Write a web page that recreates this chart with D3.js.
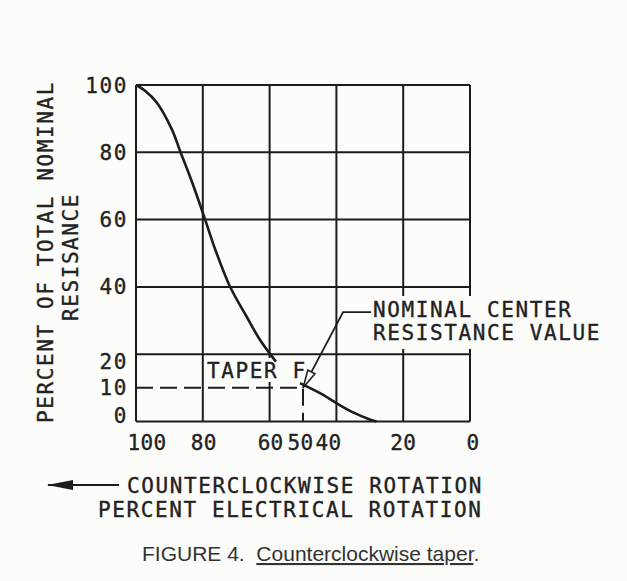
<!DOCTYPE html>
<html>
<head>
<meta charset="utf-8">
<script src="https://cdn.jsdelivr.net/npm/d3@7"></script>
<style>
  body { margin: 0; background: #fcfcfa; }
  svg { display: block; }
  .mono { font-family: "DejaVu Sans Mono", monospace; font-size: 21px; letter-spacing: 1.6px; fill: #222; stroke: #222; stroke-width: 0.35px; }
  .xt { letter-spacing: 0.3px; }
</style>
</head>
<body>
<div id="chart"></div>
<script>
// taper F, counterclockwise : [percent rotation, percent resistance]
var taperUpper = [[100, 100], [97.3, 98.3], [93.8, 94.8], [89.3, 86.9], [86.8, 80.4], [82.8, 70],
  [79.3, 60], [76.3, 51.2], [71.9, 40.2], [66.9, 31.2], [62.9, 24.3], [58.1, 17.8]];
var taperLower = [[50.9, 11.4], [44.9, 8.4], [39.9, 5.4], [35, 2.7], [30, 0.6], [28, 0]];
var xTicks = [100, 80, 60, 50, 40, 20, 0];
var yTicks = [0, 10, 20, 40, 60, 80, 100];
var xGrid = [100, 80, 60, 40, 20, 0];
var yGrid = [0, 20, 40, 60, 80, 100];
var centerPoint = [50, 10];
var leaderBend = [38, 32.5];

var W = 627, H = 581;
var svg = d3.select("#chart").append("svg").attr("width", W).attr("height", H);

var x = d3.scaleLinear().domain([100, 0]).range([136, 470]);
var y = d3.scaleLinear().domain([0, 100]).range([421.5, 85]);
var ink = "#1c1c1c";

// grid
svg.append("g").selectAll("line").data(xGrid).enter().append("line")
  .attr("x1", d => x(d)).attr("x2", d => x(d))
  .attr("y1", y(0)).attr("y2", y(100))
  .attr("stroke", ink).attr("stroke-width", 2);
svg.append("g").selectAll("line").data(yGrid).enter().append("line")
  .attr("x1", x(100)).attr("x2", x(0))
  .attr("y1", d => y(d)).attr("y2", d => y(d))
  .attr("stroke", ink).attr("stroke-width", 2);

// white boxes behind the labels inside the grid
svg.append("rect").attr("x", 204).attr("y", 358).attr("width", 96).attr("height", 24).attr("fill", "#fcfcfa");
svg.append("rect").attr("x", 368).attr("y", 296).attr("width", 240).attr("height", 53).attr("fill", "#fcfcfa");

// dashed guide to nominal center
svg.append("path")
  .attr("d", "M" + x(100) + "," + y(centerPoint[1]) + "H" + x(centerPoint[0]) + "V" + y(0))
  .attr("fill", "none").attr("stroke", ink).attr("stroke-width", 2)
  .attr("stroke-dasharray", "17,7");

// taper curve
var line = d3.line().x(d => x(d[0])).y(d => y(d[1])).curve(d3.curveCatmullRom);
[taperUpper, taperLower].forEach(function(seg) {
  svg.append("path").attr("d", line(seg))
    .attr("fill", "none").attr("stroke", ink).attr("stroke-width", 2.6);
});

// tick labels
var yNudge = {0: -6, 20: 7};
svg.append("g").selectAll("text").data(yTicks).enter().append("text")
  .attr("class", "mono").attr("text-anchor", "end")
  .attr("x", 128).attr("y", d => y(d) + (yNudge[d] || 0))
  .attr("dy", "0.36em").text(d => d);
var xNudge = {100: 11, 80: 1, 60: 1, 50: -2.5, 40: -8, 0: 3};
svg.append("g").selectAll("text").data(xTicks).enter().append("text")
  .attr("class", "mono xt").attr("text-anchor", "middle")
  .attr("x", d => x(d) + (xNudge[d] || 0)).attr("y", 450).text(d => d);

// y axis title
var yt = svg.append("g").attr("transform", "translate(53,252) rotate(-90)");
yt.append("text").attr("class", "mono").attr("text-anchor", "middle").text("PERCENT OF TOTAL NOMINAL");
yt.append("text").attr("class", "mono").attr("text-anchor", "middle").attr("y", 25).attr("x", -5).text("RESISANCE");

// annotations
svg.append("text").attr("class", "mono").attr("x", 207).attr("y", 378).text("TAPER F");
svg.append("text").attr("class", "mono").attr("x", 373).attr("y", 317).text("NOMINAL CENTER");
svg.append("text").attr("class", "mono").attr("x", 373).attr("y", 340).text("RESISTANCE VALUE");

var defs = svg.append("defs");
defs.append("marker").attr("id", "open").attr("viewBox", "0 0 20 10")
  .attr("refX", 19).attr("refY", 5).attr("markerWidth", 20).attr("markerHeight", 10)
  .attr("markerUnits", "userSpaceOnUse").attr("orient", "auto")
  .append("path").attr("d", "M1,1 L19,5 L1,9 Z")
  .attr("fill", "#fcfcfa").attr("stroke", ink).attr("stroke-width", 1.6);
defs.append("marker").attr("id", "solid").attr("viewBox", "0 0 26 10")
  .attr("refX", 25).attr("refY", 5).attr("markerWidth", 26).attr("markerHeight", 10)
  .attr("markerUnits", "userSpaceOnUse").attr("orient", "auto")
  .append("path").attr("d", "M0,0 L26,5 L0,10 Z").attr("fill", ink);

svg.append("path")
  .attr("d", "M371," + (y(leaderBend[1])) + "H" + x(leaderBend[0]) +
    "L" + x(centerPoint[0]) + "," + y(centerPoint[1]))
  .attr("fill", "none").attr("stroke", ink).attr("stroke-width", 1.8)
  .attr("marker-end", "url(#open)");

// x axis title
svg.append("line").attr("x1", 119).attr("x2", 48).attr("y1", 485).attr("y2", 485)
  .attr("stroke", ink).attr("stroke-width", 2.2).attr("marker-end", "url(#solid)");
svg.append("text").attr("class", "mono").attr("x", 127).attr("y", 493).text("COUNTERCLOCKWISE ROTATION");
svg.append("text").attr("class", "mono").attr("x", 98).attr("y", 517).text("PERCENT ELECTRICAL ROTATION");

// caption
var cap = svg.append("text").attr("x", 142).attr("y", 561)
  .style("font-family", "'Liberation Sans', Arial, sans-serif").style("font-size", "21px").attr("fill", "#333");
cap.append("tspan").text("FIGURE 4.\u00a0\u00a0");
cap.append("tspan").attr("text-decoration", "underline").text("Counterclockwise taper");
cap.append("tspan").text(".");
</script>
</body>
</html>
